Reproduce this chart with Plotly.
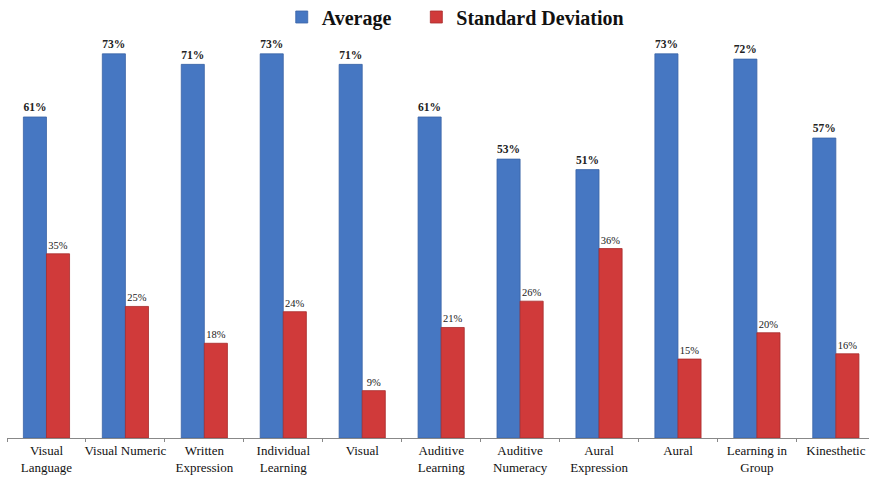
import plotly.graph_objects as go

categories = [
    "Visual<br>Language", "Visual Numeric", "Written<br>Expression",
    "Individual<br>Learning", "Visual", "Auditive<br>Learning",
    "Auditive<br>Numeracy", "Aural<br>Expression", "Aural",
    "Learning in<br>Group", "Kinesthetic",
]
average = [61, 73, 71, 73, 71, 61, 53, 51, 73, 72, 57]
std_dev = [35, 25, 18, 24, 9, 21, 26, 36, 15, 20, 16]

serif = "Liberation Serif, Times New Roman, serif"

fig = go.Figure()
fig.add_trace(go.Bar(
    name="<b>Average</b>" + "\u00a0" * 4, x=categories, y=average,
    text=[f"<b>{v}%</b>" for v in average], textposition="outside",
    textfont=dict(family=serif, size=12.5, color="#222222"),
    marker=dict(color="#4677C2", line=dict(color="#3A63A6", width=0.8)),
    cliponaxis=False,
))
fig.add_trace(go.Bar(
    name="<b>Standard Deviation</b>", x=categories, y=std_dev,
    text=[f"{v}%" for v in std_dev], textposition="outside",
    textfont=dict(family=serif, size=10.5, color="#1a1a1a"),
    marker=dict(color="#D03A3A", line=dict(color="#A72B2B", width=0.8)),
    cliponaxis=False,
))

fig.update_layout(
    width=869, height=478,
    margin=dict(l=7, r=0, t=17, b=40, autoexpand=False),
    paper_bgcolor="white", plot_bgcolor="white",
    barmode="group", bargap=0.415, bargroupgap=0,
    font=dict(family=serif, color="#111111"),
    legend=dict(
        orientation="h", xref="paper", yref="paper",
        x=0.52, xanchor="center", y=1.0, yanchor="middle",
        font=dict(family=serif, size=20, color="#111111"),
        bgcolor="rgba(0,0,0,0)",
    ),
    xaxis=dict(
        range=[-0.5, 10.42], showline=True, linecolor="#888888", linewidth=1,
        ticks="outside", tickson="boundaries", ticklen=3, tickcolor="#888888",
        tickfont=dict(family=serif, size=13, color="#111111"),
        showgrid=False, tickangle=0, automargin=False,
    ),
    yaxis=dict(range=[0, 80], visible=False, showgrid=False),
)

fig.write_html("out.html")
